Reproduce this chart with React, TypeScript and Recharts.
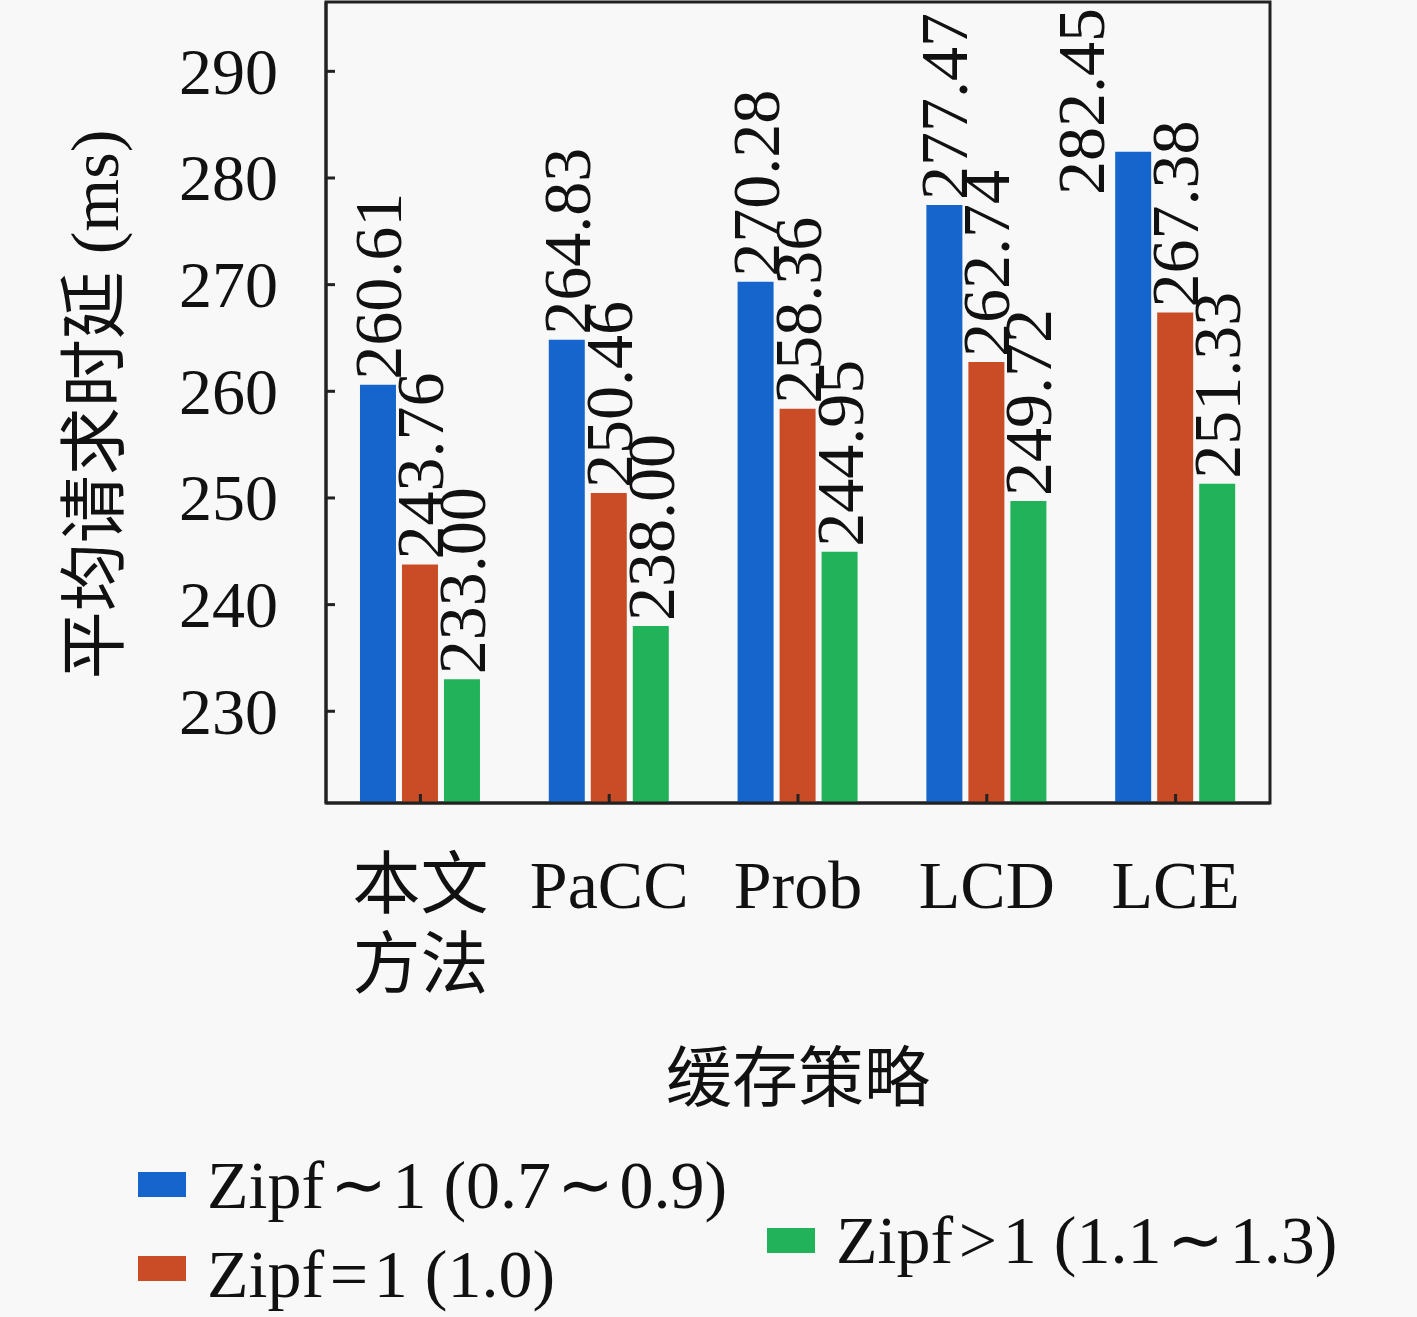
import React from 'react';
import { BarChart, Bar, XAxis, YAxis, Legend, LabelList, ReferenceArea } from 'recharts';

const categories = ['本文\n方法', 'PaCC', 'Prob', 'LCD', 'LCE'];
const zipfLow = [260.61, 264.83, 270.28, 277.47, 282.45];
const zipfOne = [243.76, 250.46, 258.36, 262.74, 267.38];
const zipfHigh = [233.0, 238.0, 244.95, 249.72, 251.33];
const yTicks = [230, 240, 250, 260, 270, 280, 290];

const seriesNames = ['Zipf\u200a∼\u200a1 (0.7\u200a∼\u200a0.9)', 'Zipf\u200a=\u200a1 (1.0)', 'Zipf\u200a>\u200a1 (1.1\u200a∼\u200a1.3)'];
const colors = ['#1565cc', '#c94c27', '#22b35a'];

const data = categories.map((name, i) => ({
  name,
  low: zipfLow[i],
  one: zipfOne[i],
  high: zipfHigh[i],
}));

const FONT = '"Liberation Serif", "Noto Sans CJK SC", serif';
const PLOT_TOP = 2;
const Y_MIN = 221.4;
const Y_MAX = 296.5;

const YTick = (props: any) => {
  const { x, y, payload } = props;
  return (
    <g>
      <line x1={x} x2={x + 9} y1={y} y2={y} stroke="#222" strokeWidth={3} />
      <text x={x - 48} y={y} textAnchor="end" dominantBaseline="central" fontFamily={FONT} fontSize={66} fill="#111">
        {payload.value}
      </text>
    </g>
  );
};

const XTick = (props: any) => {
  const { x, y, payload } = props;
  const lines = String(payload.value).split('\n');
  return (
    <g>
      <line x1={x} x2={x} y1={y} y2={y - 9} stroke="#222" strokeWidth={3} />
      {lines.map((l, i) => (
        <text key={i} x={x} y={y + 82 + i * 80} textAnchor="middle" dominantBaseline="central" fontFamily={FONT} fontSize={68} fill="#111">
          {l}
        </text>
      ))}
    </g>
  );
};

const BarLabel = (props: any) => {
  const { x, y, width, value } = props;
  const textLen = 185;
  let cx = x + width / 2;
  let sy = y - 5;
  if (sy - textLen < PLOT_TOP + 6) {
    // no room above the bar: pushed down and to the left
    cx = cx - 52;
    sy = PLOT_TOP + 8 + textLen;
  }
  return (
    <text
      transform={`translate(${cx}, ${sy}) rotate(-90)`}
      textAnchor="start"
      dominantBaseline="central"
      fontFamily={FONT}
      fontSize={68}
      fill="#111"
    >
      {Number(value).toFixed(2)}
    </text>
  );
};

const LegendBox = (props: any) => {
  const payload = props.payload || [];
  const spots = [
    { sq: [138, 32], tx: [207, 45] },
    { sq: [138, 116], tx: [207, 134] },
    { sq: [767, 88], tx: [836, 100] },
  ];
  return (
    <div style={{ position: 'relative', width: 1417, height: 177 }}>
      {payload.map((p: any) => {
        const i = seriesNames.indexOf(p.value);
        if (i < 0) return null;
        return (
          <React.Fragment key={p.value}>
            <div style={{ position: 'absolute', left: spots[i].sq[0], top: spots[i].sq[1], width: 48, height: 25, background: colors[i] }} />
            <div
              style={{
                position: 'absolute',
                left: spots[i].tx[0],
                top: spots[i].tx[1] - 40,
                height: 80,
                lineHeight: '80px',
                fontFamily: FONT,
                fontSize: 68,
                color: '#111',
                whiteSpace: 'nowrap',
              }}
            >
              {p.value}
            </div>
          </React.Fragment>
        );
      })}
    </div>
  );
};

export default function App() {
  return (
    <div style={{ position: 'absolute', left: 0, top: 0, width: 1417, height: 1317, background: '#f8f8f8' }}>
      <BarChart
        width={1417}
        height={1317}
        data={data}
        margin={{ top: PLOT_TOP, right: 147, left: 0, bottom: 0 }}
        barCategoryGap="18%"
        barGap={6}
      >
        <XAxis
          dataKey="name"
          height={514}
          axisLine={{ stroke: '#222', strokeWidth: 3 }}
          tickLine={false}
          tickSize={0}
          tickMargin={0}
          tick={<XTick />}
          interval={0}
          label={(p: any) => {
            const vb = p.viewBox;
            return (
              <text x={vb.x + vb.width / 2} y={1078} textAnchor="middle" dominantBaseline="central" fontFamily={FONT} fontSize={66} fill="#111">
                缓存策略
              </text>
            );
          }}
        />
        <YAxis
          width={326}
          domain={[Y_MIN, Y_MAX]}
          ticks={yTicks}
          allowDataOverflow
          axisLine={{ stroke: '#222', strokeWidth: 3 }}
          tickLine={false}
          tickSize={0}
          tickMargin={0}
          tick={<YTick />}
          label={(p: any) => {
            const vb = p.viewBox;
            const cx = 95;
            const cy = vb.y + vb.height / 2 + 2;
            return (
              <text transform={`translate(${cx}, ${cy}) rotate(-90)`} textAnchor="middle" dominantBaseline="central" fontFamily={FONT} fontSize={68} fill="#111">
                平均请求时延 (ms)
              </text>
            );
          }}
        />
        <Legend
          layout="horizontal"
          verticalAlign="middle"
          align="center"
          wrapperStyle={{ position: 'absolute', left: 0, top: 1140, width: 1417, height: 177 }}
          content={<LegendBox />}
        />
        <Bar dataKey="low" name={seriesNames[0]} fill={colors[0]} isAnimationActive={false}>
          <LabelList dataKey="low" content={<BarLabel />} />
        </Bar>
        <Bar dataKey="one" name={seriesNames[1]} fill={colors[1]} isAnimationActive={false}>
          <LabelList dataKey="one" content={<BarLabel />} />
        </Bar>
        <Bar dataKey="high" name={seriesNames[2]} fill={colors[2]} isAnimationActive={false}>
          <LabelList dataKey="high" content={<BarLabel />} />
        </Bar>
        <ReferenceArea y1={Y_MIN} y2={Y_MAX} fill="none" stroke="#222" strokeWidth={3} ifOverflow="visible" />
      </BarChart>
    </div>
  );
}
